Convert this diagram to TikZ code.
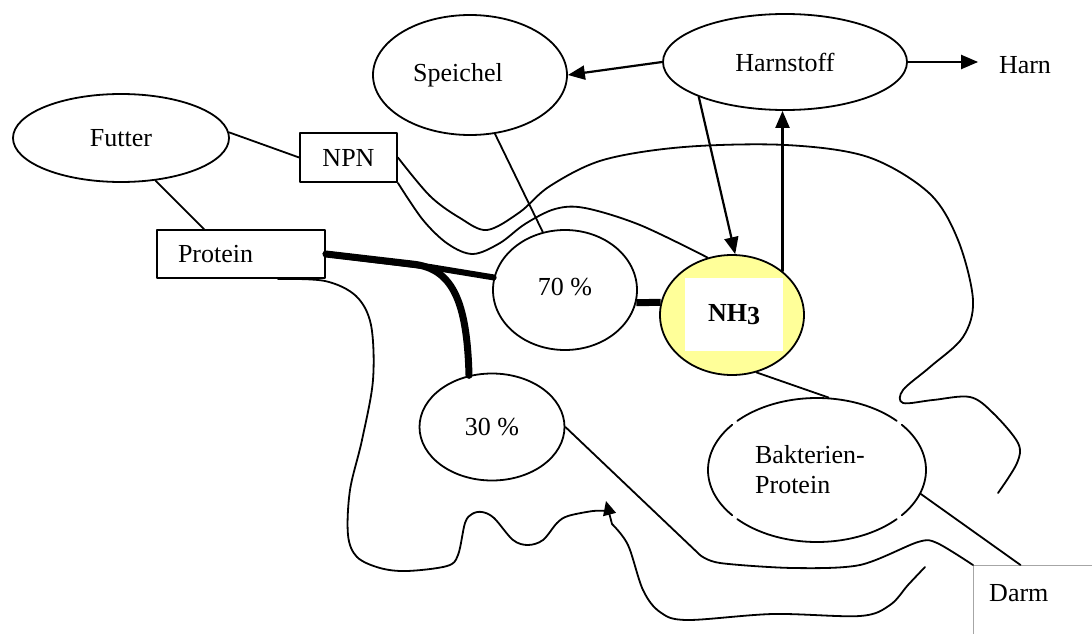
\documentclass[tikz,border=0pt]{standalone}
\usepackage{fontspec}
\setmainfont{Liberation Serif}
\usetikzlibrary{shapes.geometric,arrows.meta}
\definecolor{nhy}{HTML}{FFFF99}
\definecolor{darmgray}{HTML}{A6A6A6}
\begin{document}
\begin{tikzpicture}[x=1pt,y=-1pt,line width=1.8pt,line cap=round,line join=round,
  every node/.style={font=\fontsize{26}{30}\selectfont},
  oval/.style={ellipse,draw,inner sep=0pt},
  boxnode/.style={draw,rectangle,inner sep=0pt},
  arr/.style={line width=2.2pt,-{Triangle[length=17pt,width=14pt]}},
  thickline/.style={line width=7pt,line cap=butt}]
\useasboundingbox (0,0) rectangle (1092,634);
% nodes
\node[oval,minimum width=216pt,minimum height=88pt] (futter) at (121,138) {Futter};
\node[boxnode,minimum width=97pt,minimum height=49pt] (npn) at (348.5,157.5) {NPN};
\node[boxnode,minimum width=168pt,minimum height=48pt,text width=126pt,align=left,inner xsep=21pt] (protein) at (241,254) {Protein};
\node[oval,minimum width=194pt,minimum height=120pt] (speichel) at (470,75) {\kern-24pt Speichel};
\node[oval,minimum width=244pt,minimum height=96pt] (harnstoff) at (785,62) {Harnstoff};
\node[inner xsep=20pt] (harn) at (1025,65) {Harn};
\node[oval,minimum width=144pt,minimum height=120pt] (p70) at (565,290) {\raisebox{6pt}{70 \%}};
\node[oval,fill=nhy,minimum width=144pt,minimum height=120pt] (nh3) at (732,315) {};
\node[fill=white,minimum width=98pt,minimum height=73pt,inner sep=0pt,font=\fontsize{26}{30}\selectfont\bfseries] (nh3txt) at (734,314.5) {NH\raisebox{-3pt}{3}};
\node[oval,minimum width=145pt,minimum height=107pt] (p30) at (492,427) {30 \%};
\node[ellipse,minimum width=218pt,minimum height=144pt,inner sep=0pt,align=left] (bak) at (817,470) {\kern-14pt Bakterien-\\\kern-14pt Protein};
\foreach \a/\d in {43/94,141/78,223/94,321/78}
  \draw (bak.center) ++(\a:109pt and 72pt) arc[start angle=\a,delta angle=\d,x radius=109pt,y radius=72pt];
\node[draw=darmgray,line width=1pt,minimum width=150pt,minimum height=100pt,anchor=north west,inner sep=0pt] (darm) at (973,565) {};
\node[anchor=west] (darmtxt) at (985,593) {Darm};
% coordinates
\coordinate (bend) at (430,267);
\coordinate (split) at (412,264);
\coordinate (bigend) at (998,493);
\coordinate (junction) at (606,511);
\coordinate (junctionbase) at (612,524);
\coordinate (junctiontip) at (606,501);
\coordinate (lowend) at (925,567);
% straight connectors
\draw (futter.3) -- (npn.west);
\draw (futter.-51) -- (protein.146);
\draw (speichel.-67) -- (p70.111);
\draw[arr] (harnstoff.west) -- (speichel.east);
\draw[arr] (harnstoff.east) -- (harnstoff.east -| harn.west);
\draw[arr] (harnstoff.-158) -- (nh3.87);
\draw[arr] (nh3.41) -- (nh3.41 |- harnstoff.south);
\draw[thickline] (p70.-10) -- (nh3.170);
\draw (nh3.-67) -- (bak.81);
\draw (bak.-13) -- (darm.119);
% thick protein lines
\draw[line width=6pt] (protein.east) -- (bend) -- (p70.170);
\draw[line width=7pt] (protein.east) -- (split) .. controls (452,268) and (467,300) .. (p30.114);
% curves
\draw plot[smooth,tension=0.55] coordinates {(npn.east) (430,196) (460,218) (487,230) (520,212) (550,186) (603,160) (684,147) (786,145) (868,157) (929,193) (958,240) (973,300) (963,337) (930,367) (903,390) (903,403) (933,400) (970,397) (993,413) (1018,443) (1017,463) (bigend)};
\draw plot[smooth,tension=0.55] coordinates {(npn.south east) (423,220) (448,244) (473,254) (500,243) (525,224) (555,209) (585,208) (640,225) (nh3.113)};
\draw plot[smooth,tension=0.55] coordinates {(protein.-34) (325,281) (356,296) (371,325) (373,380) (362,440) (350,490) (348,535) (357,557) (380,568) (407,571) (447,566) (458,555) (465,523) (472,514) (482,512) (494,518) (513,540) (528,545) (543,540) (557,523) (568,516) (593,511) (junction)};
\draw plot[smooth,tension=0.55] coordinates {(lowend) (908,585) (890,605) (860,616) (773,614) (687,620) (660,612) (643,590) (628,545) (junctionbase)};
\draw[-{Triangle[length=14pt,width=13pt]}] (junctionbase) -- (junctiontip);
\draw (p30.east) -- plot[smooth,tension=0.5] coordinates {(700,555) (720,563) (793,568) (860,565) (918,542) (937,543) (darm.north west)};
\end{tikzpicture}
\end{document}
